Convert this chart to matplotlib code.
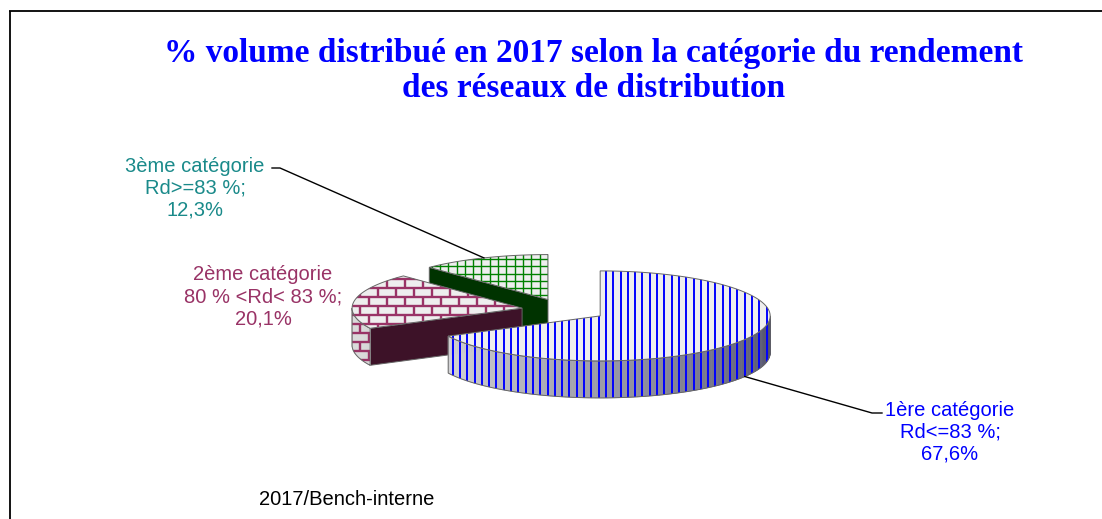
import numpy as np
import matplotlib.pyplot as plt
from matplotlib.patches import Polygon
from matplotlib.collections import LineCollection
from matplotlib.colors import to_rgb

# données
categories = ['1ère catégorie\nRd<=83 %;', '2ème catégorie\n80 % <Rd< 83 %;', '3ème catégorie\nRd>=83 %;']
values = [67.6, 20.1, 12.3]
value_labels = ['67,6%', '20,1%', '12,3%']
title_lines = ['% volume distribué en 2017 selon la catégorie du rendement',
               'des réseaux de distribution']
source = '2017/Bench-interne'

# style
text_colors = ['#0000FF', '#993366', '#1A8A8A']
line_colors = ['#0000FF', '#993366', '#008000']
cut_colors = ['#1F1F5C', '#3D1228', '#003300']
patterns = ['vlines', 'brick', 'grid']

W, H = 1102, 519
fig = plt.figure(figsize=(W / 100, H / 100), dpi=100)
ax = fig.add_axes([0, 0, 1, 1])
ax.set_xlim(0, W)
ax.set_ylim(H, 0)
ax.axis('off')

# géométrie du camembert 3D (pixels)
cx0, cy0 = 564, 310
rx, ry, depth = 170, 45, 37
explode = 0.25


def rim(c, th, dz=0.0):
    t = np.radians(np.atleast_1d(th))
    return np.column_stack([c[0] + rx * np.sin(t), c[1] - ry * np.cos(t) + dz])


def shade(th):
    # clair à gauche, sombre à droite
    s = np.clip((th - 90) / 160, 0, 1)
    dark = np.array(to_rgb('#4B4B66'))
    light = np.array(to_rgb('#DADADA'))
    return tuple(dark + (light - dark) * s)


def pattern(kind, color, clip, z):
    segs = []
    if kind == 'vlines':
        for x in np.arange(0, W, 7.3):
            segs.append([(x, 0), (x, H)])
        lw = 1.4
    elif kind == 'grid':
        for x in np.arange(0, W, 8.3):
            segs.append([(x, 0), (x, H)])
        for y in np.arange(0, H, 7.2):
            segs.append([(0, y), (W, y)])
        lw = 1.0
    else:
        bh, bw = 9.0, 18.0
        for k, y in enumerate(np.arange(0, H, bh)):
            segs.append([(0, y), (W, y)])
            for x in np.arange((k % 2) * bw / 2, W, bw):
                segs.append([(x, y), (x, y + bh)])
        lw = 1.7
    lc = LineCollection(segs, colors=color, linewidths=lw, zorder=z)
    ax.add_collection(lc)
    lc.set_clip_path(clip)


def face(pts, fc, z, kind=None, lc=None, ec='#666666'):
    p = Polygon(pts, closed=True, facecolor=fc, edgecolor='none', zorder=z)
    ax.add_patch(p)
    if kind is not None:
        pattern(kind, lc, p, z + 0.1)
    ax.add_patch(Polygon(pts, closed=True, fill=False, edgecolor=ec, lw=0.7, zorder=z + 0.2))


# angles (sens horaire depuis midi)
bounds = np.concatenate([[0], np.cumsum(values) / sum(values) * 360])
centres = []
for i in range(len(values)):
    m = (bounds[i] + bounds[i + 1]) / 2
    centres.append(rim((cx0, cy0), m)[0] * explode + np.array([cx0, cy0]) * (1 - explode))

z = 1
for i in reversed(range(len(values))):
    a, b = bounds[i], bounds[i + 1]
    c = centres[i]
    # faces de coupe visibles
    if np.sin(np.radians(a)) < -1e-6:
        r0 = rim(c, a)[0]
        face([c, r0, r0 + [0, depth], c + [0, depth]], cut_colors[i], z)
        z += 1
    if np.sin(np.radians(b)) > 1e-6:
        r0 = rim(c, b)[0]
        face([c, r0, r0 + [0, depth], c + [0, depth]], cut_colors[i], z)
        z += 1
    # flanc
    lo, hi = max(a, 90), min(b, 270)
    if hi > lo:
        th = np.linspace(lo, hi, 120)
        for t0, t1 in zip(th[:-1], th[1:]):
            seg = np.vstack([rim(c, [t0, t1]), rim(c, [t1, t0], depth)])
            ax.add_patch(Polygon(seg, closed=True, facecolor=shade((t0 + t1) / 2),
                                 edgecolor=shade((t0 + t1) / 2), lw=0.5, zorder=z))
        side = np.vstack([rim(c, th), rim(c, th[::-1], depth)])
        p = Polygon(side, closed=True, fill=False, edgecolor='none', zorder=z)
        ax.add_patch(p)
        pattern(patterns[i], line_colors[i], p, z + 0.1)
        ax.add_patch(Polygon(side, closed=True, fill=False, edgecolor='#666666', lw=0.7, zorder=z + 0.2))
        z += 1
    # dessus
    top = np.vstack([[c], rim(c, np.linspace(a, b, 200))])
    face(top, '#EEEEEE', z, patterns[i], line_colors[i])
    z += 1

# étiquettes
label_xy = [(950, 432), (263, 297), (195, 188)]
for i in range(len(values)):
    ax.text(label_xy[i][0], label_xy[i][1], categories[i] + '\n' + value_labels[i],
            ha='center', va='center', multialignment='center', color=text_colors[i],
            fontsize=14.5, family='Liberation Sans', linespacing=1.2, zorder=50)

# lignes de rappel
m3 = (bounds[2] + bounds[3]) / 2
p3 = rim(centres[2], m3)[0]
ax.plot([p3[0], 280, 272], [p3[1], 168, 168], color='black', lw=1.0, zorder=40)
m1 = (bounds[0] + bounds[1]) / 2
p1 = rim(centres[0], m1, depth)[0]
ax.plot([p1[0], 872, 882], [p1[1], 413, 413], color='black', lw=1.0, zorder=40)

# titre
for k, t in enumerate(title_lines):
    ax.text(594, 62 + 35 * k, t, ha='center', va='baseline', color='#0000FF',
            fontsize=24, fontweight='bold', family='Liberation Serif')

ax.text(347, 505, source, ha='center', va='baseline', fontsize=14.5,
        family='Liberation Sans', color='black')

# cadre
ax.plot([9, W], [10.5, 10.5], color='black', lw=1.3, solid_capstyle='butt')
ax.plot([9.5, 9.5], [10.5, H], color='black', lw=1.3, solid_capstyle='butt')

fig.savefig('out.png', dpi=100)
